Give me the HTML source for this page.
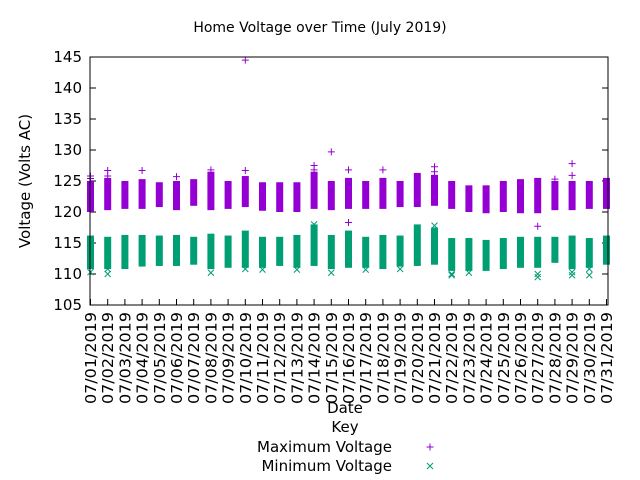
<!DOCTYPE html>
<html><head><meta charset="utf-8"><style>
body{margin:0;background:#fff}
svg{display:block;font-family:"DejaVu Sans","Liberation Sans",sans-serif}
</style></head><body>
<svg id="chart" width="640" height="480" viewBox="0 0 640 480">
<rect width="640" height="480" fill="#fff"/>
<text x="320" y="32" text-anchor="middle" font-size="14">Home Voltage over Time (July 2019)</text>
<text transform="translate(30,181) rotate(-90)" text-anchor="middle" font-size="15">Voltage (Volts AC)</text>
<text x="345" y="413" text-anchor="middle" font-size="15">Date</text>
<g id="plot"></g>
<g>
<text x="345" y="432" text-anchor="middle" font-size="15">Key</text>
<text x="392" y="452" text-anchor="end" font-size="15">Maximum Voltage</text>
<text x="392" y="471" text-anchor="end" font-size="15">Minimum Voltage</text>
<path d="M426.5 447h7M430 443.5v7" stroke="#9400d3" stroke-width="1"/>
<path d="M427 463l6 6M433 463l-6 6" stroke="#009e73" stroke-width="1"/>
</g>
</svg>
<script>
const dates = ["07/01/2019","07/02/2019","07/03/2019","07/04/2019","07/05/2019","07/06/2019","07/07/2019","07/08/2019","07/09/2019","07/10/2019","07/11/2019","07/12/2019","07/13/2019","07/14/2019","07/15/2019","07/16/2019","07/17/2019","07/18/2019","07/19/2019","07/20/2019","07/21/2019","07/22/2019","07/23/2019","07/24/2019","07/25/2019","07/26/2019","07/27/2019","07/28/2019","07/29/2019","07/30/2019","07/31/2019"];
const maxHigh = [125,125.5,125,125.3,124.8,125,125.3,126.5,125,125.8,124.8,124.8,124.8,126.5,125,125.5,125,125.5,125,126.3,126,125,124.3,124.3,125,125.3,125.5,125,125,125,125.5];
const maxLow = [120,120.3,120.5,120.5,120.8,120.3,121,120.3,120.5,120.8,120.2,120,120,120.5,120.3,120.5,120.5,120.5,120.8,120.8,121,120.5,120,119.8,120,119.8,119.8,120.3,120.3,120.5,120.5];
const minHigh = [116.2,116,116.3,116.3,116.2,116.3,116,116.5,116.2,117,116,116,116.3,118,116.3,117,116,116.3,116.2,118,117.5,115.8,115.8,115.5,115.8,116,116,116,116.2,115.8,116.2];
const minLow = [110.8,110.8,110.8,111.2,111.3,111.3,111.5,110.8,111,111,111,111.3,111,111.3,110.8,111,111,110.8,111.2,111.3,111.5,110.5,110.5,110.5,110.8,111,111,111.8,110.8,111,111.5];
const maxOutDay = [1,1,2,2,4,6,8,10,10,14,14,15,16,16,18,21,21,27,28,29,29];
const maxOutVal = [125.8,125.4,126.7,125.8,126.7,125.7,126.8,126.7,144.5,127.5,126.8,129.7,126.8,118.3,126.8,127.3,126.5,117.7,125.3,127.8,125.9];
const minOutDay = [1,2,2,8,10,11,13,15,17,19,22,22,23,27,27,29,29,30,30,14,21];
const minOutVal = [110.3,110,110.8,110.2,110.8,110.7,110.7,110.2,110.7,110.8,110,109.8,110.2,110,109.5,110.3,109.8,110.8,109.8,118,117.8];
const yTicks = [105,110,115,120,125,130,135,140,145];

const L=90,R=608,T=57,B=305,Y0=105,Y1=145;
const xS=d=>90.5+(d-1)*(606.5-90.5)/30;
const yS=v=>B-(v-Y0)*(B-T)/(Y1-Y0);
const NS="http://www.w3.org/2000/svg";
const g=document.getElementById('plot');
function mk(tag,attrs){const e=document.createElementNS(NS,tag);for(const k in attrs)e.setAttribute(k,attrs[k]);g.appendChild(e);return e;}

yTicks.forEach(v=>{
  const t=mk('line',{x1:L,x2:L+6,y1:yS(v),y2:yS(v),stroke:'#000'});
  
  
  const t2=mk('line',{x1:R-6,x2:R,y1:yS(v),y2:yS(v),stroke:'#000'});
  
  
  const lb=mk('text',{x:L-8,y:yS(v)+5,'text-anchor':'end','font-size':'15'});
  lb.textContent=v;
  
  
});
dates.forEach((d,i)=>{
  const x=xS(i+1);
  const t=mk('line',{x1:x,x2:x,y1:B,y2:B-6,stroke:'#000'});
  
  
  const lb=mk('text',{transform:`translate(${x+5.5},312) rotate(-90)`,'text-anchor':'end','font-size':'15',textLength:'92',lengthAdjust:'spacingAndGlyphs'});
  lb.textContent=d;
  
  
});
dates.forEach((d,i)=>{
  const x=xS(i+1);
  const b1=mk('rect',{x:x-3.5,y:yS(maxHigh[i]),width:7,height:yS(maxLow[i])-yS(maxHigh[i]),fill:'#9400d3'});
  
  
  const b2=mk('rect',{x:x-3.5,y:yS(minHigh[i]),width:7,height:yS(minLow[i])-yS(minHigh[i]),fill:'#009e73'});
  
  
});
maxOutDay.forEach((d,i)=>{
  const x=xS(d),y=yS(maxOutVal[i]);
  const p=mk('path',{d:`M${x-3.5} ${y}h7M${x} ${y-3.5}v7`,stroke:'#9400d3','stroke-width':1});
  
  
});
minOutDay.forEach((d,i)=>{
  const x=xS(d),y=yS(minOutVal[i]);
  const p=mk('path',{d:`M${x-3} ${y-3}l6 6M${x+3} ${y-3}l-6 6`,stroke:'#009e73','stroke-width':1});
  
  
});
const fr=mk('rect',{x:L,y:T,width:R-L,height:B-T,fill:'none',stroke:'#000','stroke-width':1});


</script>
</body></html>
